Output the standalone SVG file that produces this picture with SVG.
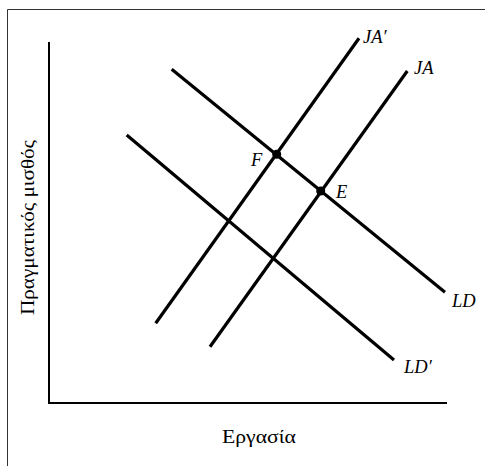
<svg xmlns="http://www.w3.org/2000/svg" width="485" height="466" viewBox="0 0 485 466">
<style>
.frame{stroke:#333;stroke-width:1;fill:none}
.axis{stroke:#000;stroke-width:2;fill:none}
.curve{stroke:#000;stroke-width:3.2;fill:none}
.lbl{font-family:"Liberation Serif",serif;font-style:italic;font-size:18.5px;fill:#000}
.ax{font-family:"Liberation Serif",serif;font-size:19px;fill:#000}
</style>
<rect width="485" height="466" fill="#fff"/>
<path class="frame" d="M7.5,466 V9.5 H485"/>
<g id="axes">
<path class="axis" d="M49,42 V403 H447"/>
</g>
<g id="connectors">
<line class="curve" x1="155.7" y1="323.3" x2="359" y2="38.3"/>
<line class="curve" x1="210" y1="346.7" x2="407.3" y2="71"/>
<line class="curve" x1="171.7" y1="69.3" x2="445" y2="292.3"/>
<line class="curve" x1="126.7" y1="135" x2="394" y2="360"/>
</g>
<g id="F"><circle cx="276.7" cy="154.3" r="4.5"/><text class="lbl" x="251" y="166">F</text></g>
<g id="E"><circle cx="320.7" cy="191" r="4.5"/><text class="lbl" x="336" y="197.5">E</text></g>
<g id="JAp"><text class="lbl" x="363" y="43">JA′</text></g>
<g id="JA"><text class="lbl" x="414" y="73.5">JA</text></g>
<g id="LD"><text class="lbl" x="452" y="306.5">LD</text></g>
<g id="LDp"><text class="lbl" x="404" y="373">LD′</text></g>
<g id="ylabel"><text class="ax" transform="translate(34,227.5) rotate(-90)" text-anchor="middle" textLength="175" lengthAdjust="spacingAndGlyphs">Πραγματικός μισθός</text></g>
<g id="xlabel"><text class="ax" x="259" y="443" text-anchor="middle" textLength="74" lengthAdjust="spacingAndGlyphs">Εργασία</text></g>
</svg>
